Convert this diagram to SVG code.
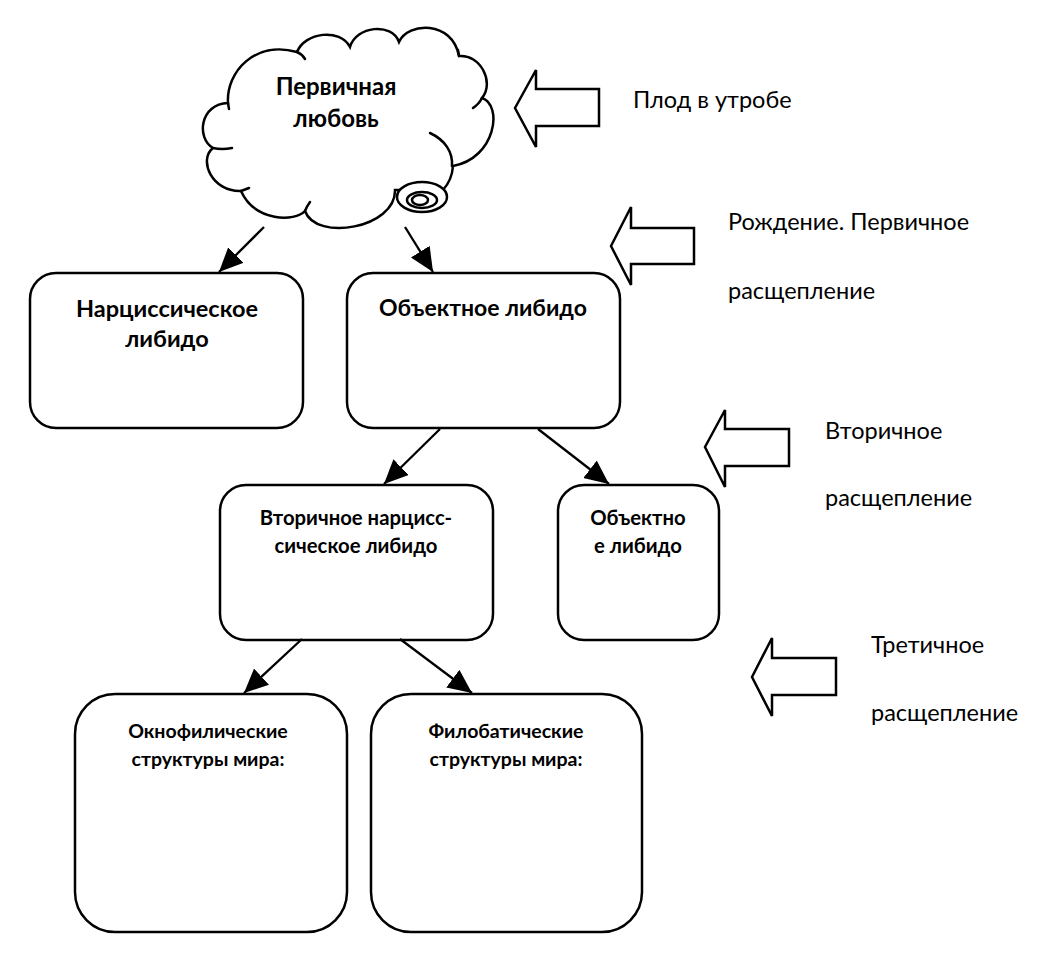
<svg xmlns="http://www.w3.org/2000/svg" width="1043" height="957" viewBox="0 0 1043 957">
<style>
.box{fill:#fff;stroke:#000;stroke-width:2.5}
.blk{fill:#fff;stroke:#000;stroke-width:2.5;stroke-linejoin:miter}
.ln{fill:none;stroke:#000;stroke-width:2.5;stroke-linecap:round}
.con{fill:none;stroke:#000;stroke-width:2.3}
.b{font-family:Lato,"Noto Sans",sans-serif;font-weight:bold;fill:#000;text-anchor:middle}
.r{font-family:Lato,"Noto Sans",sans-serif;fill:#000;font-size:23.5px}
</style>
<defs>
<marker id="ah" markerUnits="userSpaceOnUse" markerWidth="26" markerHeight="24" refX="24" refY="11" orient="auto">
<path d="M0,0 L24,11 L0,22 Z" fill="#000"/>
</marker>
</defs>
<rect width="1043" height="957" fill="#fff"/>
<g id="cloud">
<path class="box" d="M213,148 C196,138 200,104 228,103 C226,72 255,40 297,52 C305,32 340,28 350,47 C356,26 392,22 399,42 C408,22 452,20 459,56 C480,54 495,82 482,98 C503,105 496,158 453,166 Q452,180 443,190 L395,190 C396,228 316,242 305,211 C295,222 255,222 241,191 C212,192 198,160 213,148 Z"/>
<path class="ln" d="M213,148 Q222,150 232,148"/>
<path class="ln" d="M228,103 L229,109"/>
<path class="ln" d="M297,52 Q302,54 305,59"/>
<path class="ln" d="M459,56 L458,50"/>
<path class="ln" d="M482,98 Q479,104 473,108"/>
<path class="ln" d="M430,133 C445,140 453,152 452,166"/>
<path class="ln" d="M241,191 L249,188"/>
<path class="ln" d="M305,211 Q307,206 310,202"/>
<ellipse cx="422" cy="197" rx="25" ry="15" class="box"/>
<ellipse cx="422" cy="200" rx="15" ry="8" class="ln"/>
<ellipse cx="420" cy="200" rx="8" ry="5" class="ln"/>
<text class="b" font-size="24" x="336" y="95">Первичная</text>
<text class="b" font-size="24" x="336" y="127">любовь</text>
</g>
<g id="narc">
<rect class="box" x="30" y="273" width="273" height="155" rx="26"/>
<text class="b" font-size="23.5" x="167" y="317">Нарциссическое</text>
<text class="b" font-size="23.5" x="167" y="347">либидо</text>
</g>
<g id="obj">
<rect class="box" x="347" y="273" width="273" height="155" rx="26"/>
<text class="b" font-size="23" x="483" y="316">Объектное либидо</text>
</g>
<g id="vtor-narc">
<rect class="box" x="220" y="485" width="273" height="155" rx="26"/>
<text class="b" font-size="20.3" x="356" y="525">Вторичное нарцисс-</text>
<text class="b" font-size="20.3" x="356" y="553">сическое либидо</text>
</g>
<g id="vtor-obj">
<rect class="box" x="558" y="485" width="161" height="155" rx="26"/>
<text class="b" font-size="20.3" x="638" y="525">Объектно</text>
<text class="b" font-size="20.3" x="638" y="553">е либидо</text>
</g>
<g id="okno">
<rect class="box" x="75" y="694" width="272" height="238" rx="40"/>
<text class="b" font-size="19.5" x="208" y="738">Окнофилические</text>
<text class="b" font-size="19.5" x="208" y="766">структуры мира:</text>
</g>
<g id="filo">
<rect class="box" x="371" y="694" width="271" height="238" rx="40"/>
<text class="b" font-size="19.5" x="506" y="738">Филобатические</text>
<text class="b" font-size="19.5" x="506" y="766">структуры мира:</text>
</g>
<g id="stage1">
<path class="blk" d="M515,108 L536,70 L536,89 L599,89 L599,126 L536,126 L536,147 Z"/>
<text class="r" x="633" y="108">Плод в утробе</text>
</g>
<g id="stage2">
<path class="blk" d="M611,246 L631,207 L631,228 L694,228 L694,264 L631,264 L631,285 Z"/>
<text class="r" x="728" y="230">Рождение. Первичное</text>
<text class="r" x="728" y="299">расщепление</text>
</g>
<g id="stage3">
<path class="blk" d="M705,447 L725,410 L725,429 L789,429 L789,466 L725,466 L725,487 Z"/>
<text class="r" x="825" y="439">Вторичное</text>
<text class="r" x="825" y="506">расщепление</text>
</g>
<g id="stage4">
<path class="blk" d="M752,677 L772,638 L772,658 L836,658 L836,695 L772,695 L772,716 Z"/>
<text class="r" x="871" y="653">Третичное</text>
<text class="r" x="871" y="721">расщепление</text>
</g>
<g id="connectors">
<line class="con" x1="264" y1="227" x2="219" y2="272" marker-end="url(#ah)"/>
<line class="con" x1="405" y1="227" x2="433" y2="272" marker-end="url(#ah)"/>
<line class="con" x1="440" y1="429" x2="384" y2="484" marker-end="url(#ah)"/>
<line class="con" x1="538" y1="429" x2="609" y2="484" marker-end="url(#ah)"/>
<line class="con" x1="302" y1="639" x2="244" y2="693" marker-end="url(#ah)"/>
<line class="con" x1="400" y1="639" x2="472" y2="693" marker-end="url(#ah)"/>
</g>
</svg>
